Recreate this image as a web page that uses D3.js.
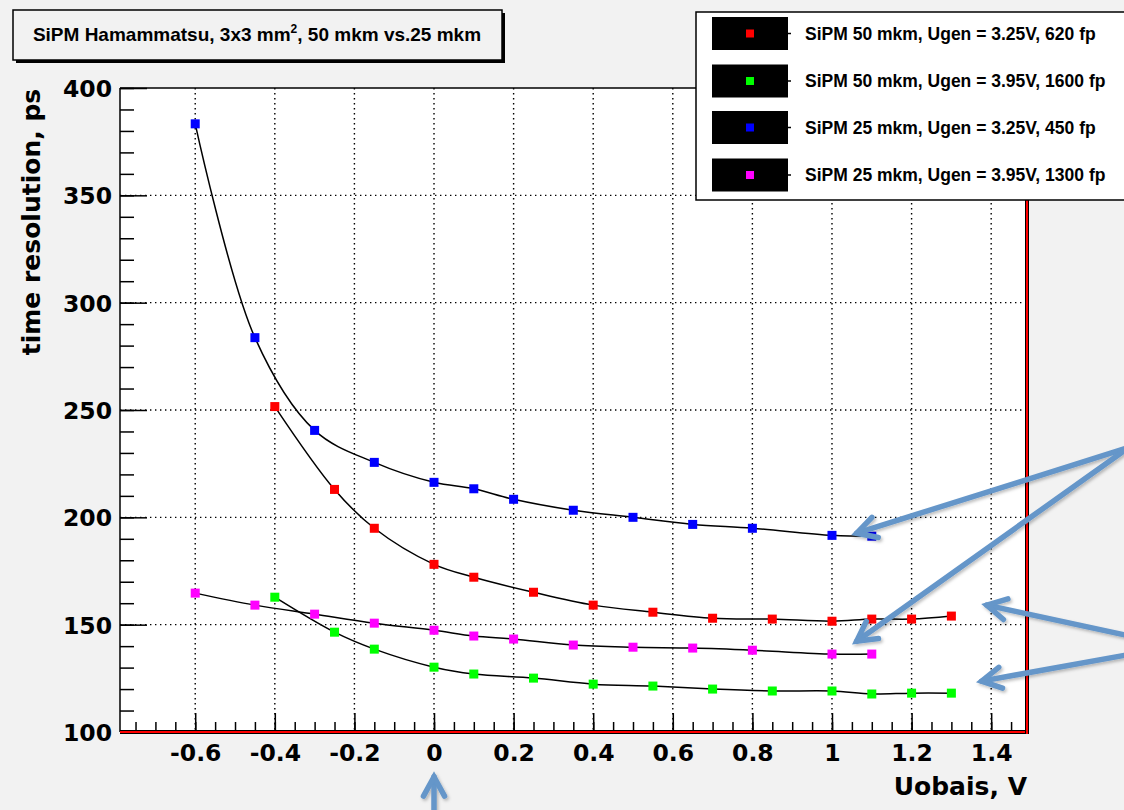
<!DOCTYPE html>
<html>
<head>
<meta charset="utf-8">
<script src="https://cdn.jsdelivr.net/npm/d3@7"></script>
<style>
  body { margin: 0; background: #f2f2f2; }
  svg { display: block; }
  .lbl { font-family: 'DejaVu Sans', sans-serif; font-weight: bold; fill: #000; }
  .hlv { font-family: 'Liberation Sans', Arial, sans-serif; font-weight: bold; fill: #000; }
</style>
</head>
<body>
<div id="chart"></div>
<script>
// values
var redX = [-0.4, -0.25, -0.15, 0, 0.1, 0.25, 0.4, 0.55, 0.7, 0.85, 1.0, 1.1, 1.2, 1.3];
var redY = [251.6, 213, 194.9, 178.1, 172.1, 165.1, 159.1, 155.8, 153, 152.6, 151.6, 152.6, 152.6, 154];
var greenX = [-0.4, -0.25, -0.15, 0, 0.1, 0.25, 0.4, 0.55, 0.7, 0.85, 1.0, 1.1, 1.2, 1.3];
var greenY = [162.8, 146.5, 138.6, 130.2, 127, 125.1, 122.3, 121.4, 120, 119.1, 119.1, 117.7, 118.1, 118.1];
var blueX = [-0.6, -0.45, -0.3, -0.15, 0, 0.1, 0.2, 0.35, 0.5, 0.65, 0.8, 1.0, 1.1];
var blueY = [383.3, 283.7, 240.5, 225.6, 216.3, 213.3, 208.4, 203.3, 200, 196.7, 194.9, 191.6, 191.2];
var magentaX = [-0.6, -0.45, -0.3, -0.15, 0, 0.1, 0.2, 0.35, 0.5, 0.65, 0.8, 1.0, 1.1];
var magentaY = [164.7, 159.1, 154.9, 150.7, 147.4, 144.7, 143.3, 140.5, 139.5, 139.1, 138.1, 136.3, 136.3];

var legendLabels = ['SiPM 50 mkm, Ugen = 3.25V, 620 fp', 'SiPM 50 mkm, Ugen = 3.95V, 1600 fp',
                    'SiPM 25 mkm, Ugen = 3.25V, 450 fp', 'SiPM 25 mkm, Ugen = 3.95V, 1300 fp'];
var xTicks = [-0.6, -0.4, -0.2, 0, 0.2, 0.4, 0.6, 0.8, 1, 1.2, 1.4];
var yTicks = [100, 150, 200, 250, 300, 350, 400];

// annotation arrows (data units): [fromX, fromY, toX, toY]
var arrows = [
  [1.738, 232.1, 1.062, 192.6],
  [1.728, 230.2, 1.062, 142.3],
  [1.738, 145.1, 1.389, 159.1],
  [1.738, 135.8, 1.376, 123.7],
  [0, 62.5, 0, 79.1]
];

var width = 1124, height = 810;
var plot = {left: 120, right: 1027, top: 88, bottom: 732};

var series = [
  {x: redX, y: redY, color: '#ff0000'},
  {x: greenX, y: greenY, color: '#00ff00'},
  {x: blueX, y: blueY, color: '#0000ff'},
  {x: magentaX, y: magentaY, color: '#ff00ff'}
];

var xScale = d3.scaleLinear().domain([-0.789, 1.490]).range([plot.left, plot.right]);
var yScale = d3.scaleLinear().domain([100, 400]).range([plot.bottom, plot.top]);

var svg = d3.select('#chart').append('svg')
    .attr('width', width)
    .attr('height', height);

svg.append('rect').attr('width', width).attr('height', height).attr('fill', '#f2f2f2');

var defs = svg.append('defs');
var f = defs.append('filter').attr('id', 'shadow').attr('x', '-20%').attr('y', '-20%').attr('width', '140%').attr('height', '140%');
f.append('feDropShadow').attr('dx', 1.5).attr('dy', 2).attr('stdDeviation', 1.5)
    .attr('flood-color', '#000').attr('flood-opacity', 0.25);

// plot area
svg.append('rect')
    .attr('x', plot.left).attr('y', plot.top)
    .attr('width', plot.right - plot.left).attr('height', plot.bottom - plot.top)
    .attr('fill', '#fff');

// grid
var grid = svg.append('g').attr('stroke', '#000').attr('stroke-width', 1.4).attr('stroke-dasharray', '1.4,3.6');
grid.selectAll('.gx').data(xTicks).enter().append('line')
    .attr('x1', function(d) { return xScale(d); }).attr('x2', function(d) { return xScale(d); })
    .attr('y1', plot.top).attr('y2', plot.bottom);
grid.selectAll('.gy').data(yTicks.slice(1, -1)).enter().append('line')
    .attr('x1', plot.left).attr('x2', plot.right)
    .attr('y1', function(d) { return yScale(d); }).attr('y2', function(d) { return yScale(d); });

// axes (ticks point inward)
var yAxis = d3.axisLeft(yScale).tickValues(yTicks).tickSizeInner(-27).tickSizeOuter(0).tickPadding(8);
var yMinor = d3.axisLeft(yScale).tickValues(d3.range(100, 401, 10)).tickSizeInner(-14).tickSizeOuter(0).tickFormat('');
var xAxis = d3.axisBottom(xScale).tickValues(xTicks).tickSizeInner(-19).tickSizeOuter(0).tickPadding(12)
    .tickFormat(function(d) { return String(+d.toFixed(1)); });
var xMinor = d3.axisBottom(xScale).tickValues(d3.range(-0.75, 1.46, 0.05)).tickSizeInner(-10).tickSizeOuter(0).tickFormat('');

svg.append('g').attr('transform', 'translate(' + plot.left + ',0)').call(yMinor);
var gy = svg.append('g').attr('transform', 'translate(' + plot.left + ',0)').call(yAxis);
svg.append('g').attr('transform', 'translate(0,' + plot.bottom + ')').call(xMinor);
var gx = svg.append('g').attr('transform', 'translate(0,' + plot.bottom + ')').call(xAxis);

svg.selectAll('.domain').remove();
svg.selectAll('.tick line').attr('stroke', '#000').attr('stroke-width', 1.5);
gy.selectAll('text').attr('class', 'lbl').style('font-size', '23.5px').attr('dy', '0.36em');
gx.selectAll('text').attr('class', 'lbl').style('font-size', '23.5px').attr('dy', '0.71em');

// frame
svg.append('line').attr('x1', plot.left).attr('x2', plot.left).attr('y1', plot.top).attr('y2', plot.bottom)
    .attr('stroke', '#000').attr('stroke-width', 1.5);
svg.append('line').attr('x1', plot.left).attr('x2', plot.right).attr('y1', plot.top).attr('y2', plot.top)
    .attr('stroke', '#000').attr('stroke-width', 1.5);
[[plot.left, plot.bottom, plot.right + 2, plot.bottom], [plot.right, plot.top, plot.right, plot.bottom + 2]].forEach(function(s) {
  svg.append('line').attr('x1', s[0]).attr('y1', s[1]).attr('x2', s[2]).attr('y2', s[3])
      .attr('stroke', '#000').attr('stroke-width', 4);
  svg.append('line').attr('x1', s[0]).attr('y1', s[1]).attr('x2', s[2]).attr('y2', s[3])
      .attr('stroke', '#ff0000').attr('stroke-width', 2);
});

// curves + markers
var line = d3.line()
    .x(function(d) { return xScale(d[0]); })
    .y(function(d) { return yScale(d[1]); })
    .curve(d3.curveCatmullRom.alpha(0.5));

series.forEach(function(s) {
  var pts = s.x.map(function(x, i) { return [x, s.y[i]]; });
  svg.append('path').datum(pts)
      .attr('d', line)
      .attr('fill', 'none')
      .attr('stroke', '#000')
      .attr('stroke-width', 1.5);
  svg.selectAll(null).data(pts).enter().append('rect')
      .attr('x', function(d) { return xScale(d[0]) - 4.5; })
      .attr('y', function(d) { return yScale(d[1]) - 4.5; })
      .attr('width', 9).attr('height', 9)
      .attr('fill', s.color);
});

// title box
svg.append('rect').attr('x', 16).attr('y', 13).attr('width', 489).attr('height', 50).attr('fill', '#000');
svg.append('rect').attr('x', 13).attr('y', 10).attr('width', 489).attr('height', 50)
    .attr('fill', '#f2f2f2').attr('stroke', '#000').attr('stroke-width', 1.5);
var title = svg.append('text').attr('class', 'hlv').attr('x', 257).attr('y', 41)
    .attr('text-anchor', 'middle').style('font-size', '19px');
title.append('tspan').text('SiPM Hamammatsu, 3x3 mm');
title.append('tspan').attr('dy', -8).style('font-size', '12px').text('2');
title.append('tspan').attr('dy', 8).text(', 50 mkm vs.25 mkm');

// legend
var lg = svg.append('g');
lg.append('rect').attr('x', 696).attr('y', 12).attr('width', 440).attr('height', 188)
    .attr('fill', '#fff').attr('stroke', '#000').attr('stroke-width', 1.5);
var rowY = [33.5, 81, 127.5, 175];
series.forEach(function(s, i) {
  lg.append('rect').attr('x', 712).attr('y', rowY[i] - 16.5).attr('width', 76).attr('height', 33).attr('fill', '#000');
  lg.append('line').attr('x1', 788).attr('x2', 791).attr('y1', rowY[i]).attr('y2', rowY[i]).attr('stroke', '#000').attr('stroke-width', 1.5);
  lg.append('rect').attr('x', 746).attr('y', rowY[i] - 4).attr('width', 8).attr('height', 8).attr('fill', s.color);
  lg.append('text').attr('class', 'hlv').attr('x', 805).attr('y', rowY[i] + 6)
      .style('font-size', '17.5px').text(legendLabels[i]);
});

// axis titles
svg.append('text').attr('class', 'lbl')
    .attr('transform', 'translate(40,' + 222 + ') rotate(-90)')
    .attr('text-anchor', 'middle').style('font-size', '25px')
    .text('time resolution, ps');
svg.append('text').attr('class', 'lbl')
    .attr('x', plot.right).attr('y', 795).attr('text-anchor', 'end').style('font-size', '25px')
    .text('Uobais, V');

// annotation arrows
var ag = svg.append('g').attr('stroke', '#6596c9').attr('stroke-width', 5.5)
    .attr('stroke-linecap', 'round').attr('fill', 'none').attr('filter', 'url(#shadow)');
arrows.forEach(function(a) {
  var x1 = xScale(a[0]), y1 = yScale(a[1]), x2 = xScale(a[2]), y2 = yScale(a[3]);
  var ang = Math.atan2(y2 - y1, x2 - x1), len = 22, spread = 0.5;
  var p1 = [x2 - len * Math.cos(ang - spread), y2 - len * Math.sin(ang - spread)];
  var p2 = [x2 - len * Math.cos(ang + spread), y2 - len * Math.sin(ang + spread)];
  ag.append('path').attr('d', 'M' + x1 + ',' + y1 + 'L' + x2 + ',' + y2);
  ag.append('path').attr('d', 'M' + p1 + 'L' + x2 + ',' + y2 + 'L' + p2);
});
</script>
</body>
</html>
